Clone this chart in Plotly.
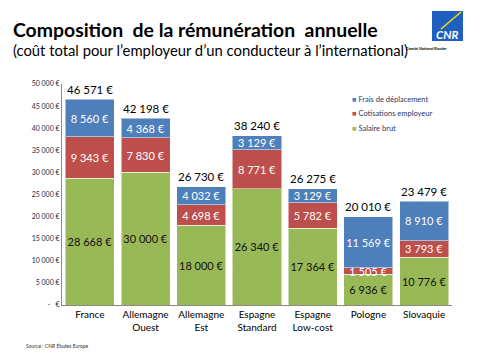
import plotly.graph_objects as go

categories = ["France", "Allemagne<br>Ouest", "Allemagne<br>Est", "Espagne<br>Standard",
              "Espagne<br>Low-cost", "Pologne", "Slovaquie"]
salaire = [28668, 30000, 18000, 26340, 17364, 6936, 10776]
cotisations = [9343, 7830, 4698, 8771, 5782, 1505, 3793]
frais = [8560, 4368, 4032, 3129, 3129, 11569, 8910]
totals = [46571, 42198, 26730, 38240, 26275, 20010, 23479]
tick_vals = [0, 5000, 10000, 15000, 20000, 25000, 30000, 35000, 40000, 45000, 50000]
tick_text = ["-   €", "5 000 €", "10 000 €", "15 000 €", "20 000 €", "25 000 €",
             "30 000 €", "35 000 €", "40 000 €", "45 000 €", "50 000 €"]
legend_names = ["Frais de déplacement", "Cotisations employeur", "Salaire brut"]
legend_colors = ["#4F81BD", "#C0504D", "#9BBB59"]

def eur(v):
    return f"{v:,}".replace(",", " ") + " €"

FONT = "Lato"
OFF = 8  # page body margin
W, H = 480 - OFF, 360 - OFF
L, R, T, B = 62 - OFF, 28, 84 - OFF, 55
PW, PH = W - L - R, H - T - B

def px(x):  # reference pixel -> paper
    return (x - OFF - L) / PW

def py(y):
    return (H - B - (y - OFF)) / PH

fig = go.Figure()
series = [
    ("Salaire brut", salaire, "#9BBB59", "#111111", "#8aa94c"),
    ("Cotisations employeur", cotisations, "#C0504D", "white", "#b04643"),
    ("Frais de déplacement", frais, "#4F81BD", "white", "#4574ad"),
]
for name, vals, col, tcol, pcol in series:
    fig.add_trace(go.Bar(
        x=categories, y=vals, name=name,
        marker=dict(color=col, line=dict(color="rgba(255,255,255,0.5)", width=1),
                    pattern=dict(shape="/", fgcolor=pcol, size=3, solidity=0.3)),
        text=[eur(v) for v in vals], textposition="inside", insidetextanchor="middle",
        constraintext="none", textangle=0,
        textfont=dict(family=FONT, size=11, color=tcol),
        hoverinfo="skip",
    ))
for c, t in zip(categories, totals):
    fig.add_annotation(x=c, y=t, text=eur(t), showarrow=False, yanchor="middle", yshift=10,
                       font=dict(family=FONT, size=11.5, color="black"))

fig.update_layout(
    width=W, height=H, barmode="stack", bargap=0.12,
    margin=dict(l=L, r=R, t=T, b=B),
    paper_bgcolor="white", plot_bgcolor="white",
    font=dict(family=FONT, color="black"),
    showlegend=False,
    xaxis=dict(showline=True, linecolor="#888888", linewidth=1, ticks="",
               tickfont=dict(family=FONT, size=10, color="black")),
    yaxis=dict(range=[0, 50000], tickvals=tick_vals, ticktext=tick_text, showgrid=False,
               showline=True, linecolor="#888888", linewidth=1, ticks="",
               tickfont=dict(family=FONT, size=7, color="#1F2A44"), zeroline=False),
)

# legend
for i, (nm, c) in enumerate(zip(legend_names, legend_colors)):
    fig.add_annotation(text=f"<span style='color:{c}'>■</span> {nm}", xref="paper", yref="paper",
                       x=px(350), y=py(99 + 14.5 * i), xanchor="left", yanchor="middle",
                       showarrow=False, font=dict(family=FONT, size=7.5, color="#1F3864"))

fig.add_annotation(text="<b>Composition  de la rémunération  annuelle</b>", xref="paper", yref="paper",
                   x=px(12), y=py(29.5), xanchor="left", yanchor="middle", showarrow=False,
                   borderpad=0, font=dict(family=FONT, size=19.4, color="black"))
fig.add_annotation(text="(coût total pour l’employeur d’un conducteur à l’international)",
                   xref="paper", yref="paper", x=px(12), y=py(50), xanchor="left", yanchor="middle",
                   showarrow=False, borderpad=0, font=dict(family=FONT, size=14.8, color="black"))
fig.add_annotation(text="Source : CNR Études Europe", xref="paper", yref="paper",
                   x=px(24), y=py(345), xanchor="left", yanchor="middle", showarrow=False,
                   font=dict(family=FONT, size=5, color="#333333"))
# logo
fig.add_shape(type="rect", xref="paper", yref="paper", x0=px(432), x1=px(463),
              y0=py(41), y1=py(11), fillcolor="#1F5FBF", line=dict(width=0), layer="above")
fig.add_shape(type="line", xref="paper", yref="paper", x0=px(441), x1=px(461),
              y0=py(29), y1=py(12), line=dict(color="#F5E400", width=1.5), layer="above")
fig.add_annotation(text="<b><i>CNR</i></b>", xref="paper", yref="paper", x=px(447), y=py(34.5),
                   xanchor="center", yanchor="middle", showarrow=False, borderpad=0,
                   font=dict(family=FONT, size=11.5, color="white"))
fig.add_annotation(text="<b><i>Comité National Routier</i></b>", xref="paper", yref="paper",
                   x=px(449), y=py(44), showarrow=False,
                   font=dict(family=FONT, size=4, color="black"))

fig.write_html("out.html")
